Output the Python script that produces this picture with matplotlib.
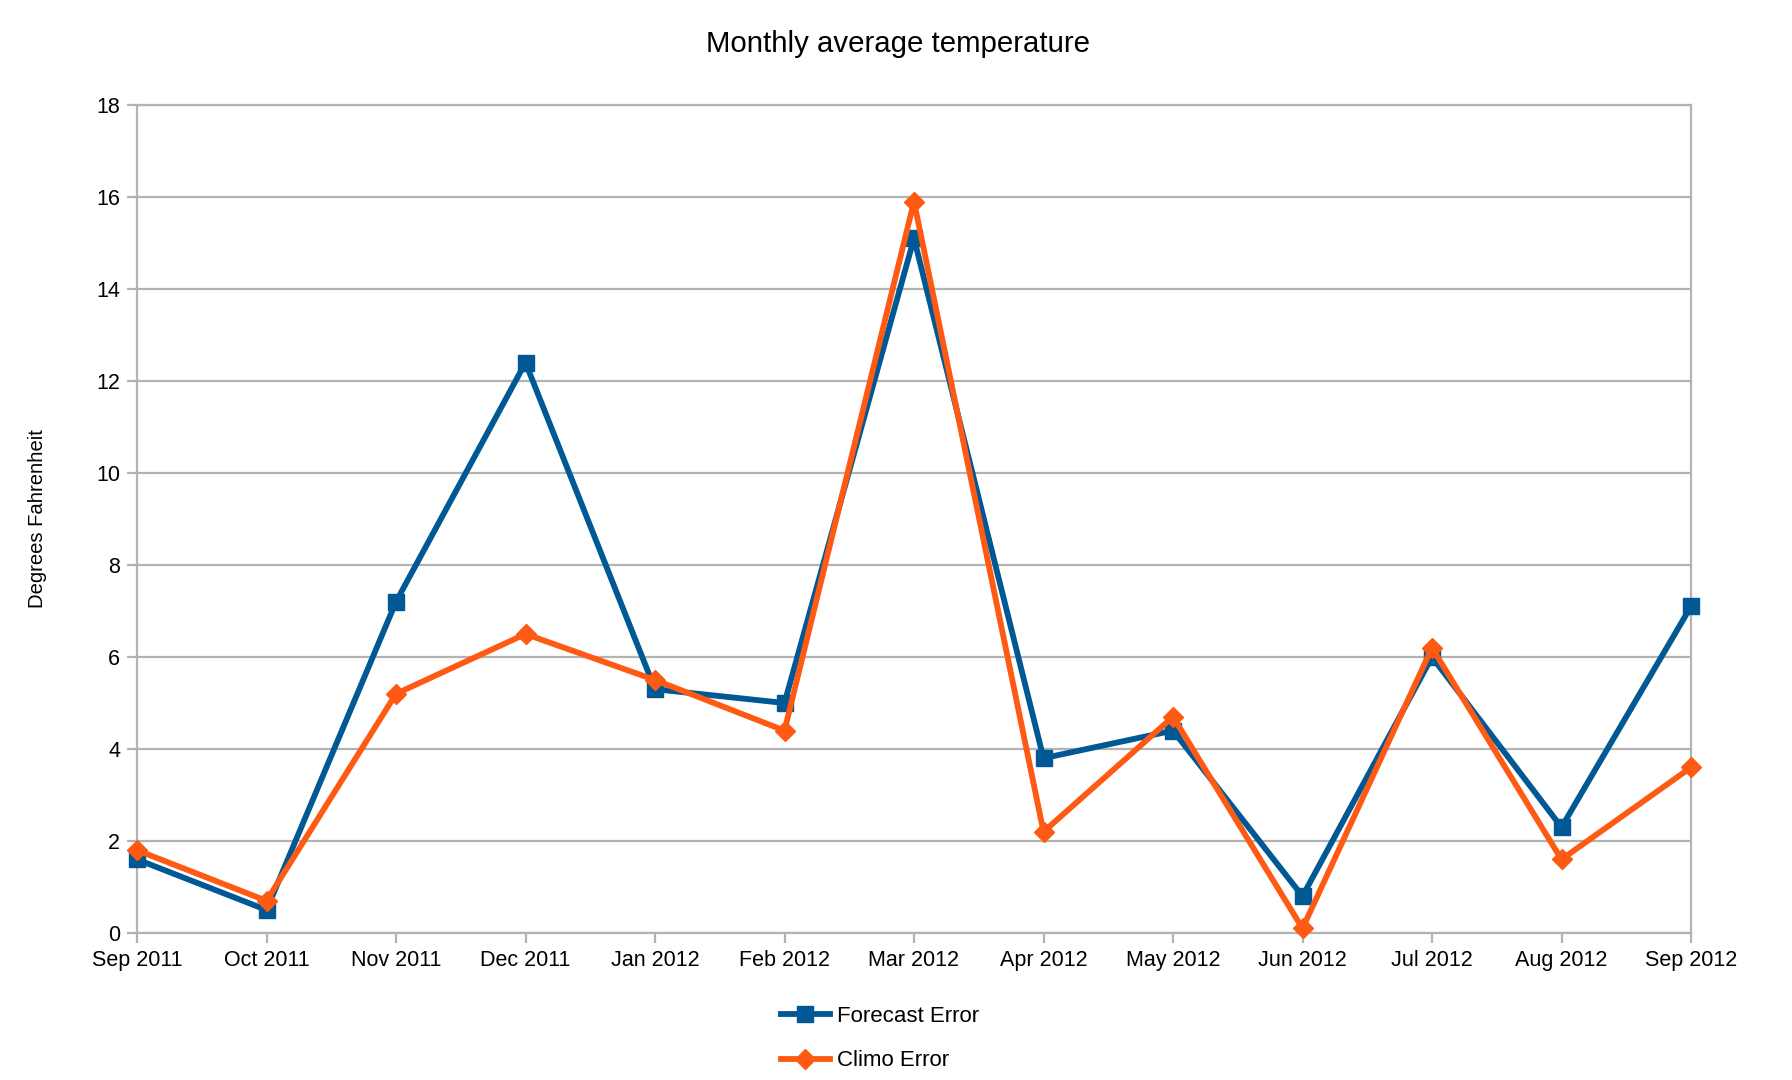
"""
Monthly average temperature: forecast vs climatology error.
"""
import matplotlib
matplotlib.use("Agg")
import matplotlib.pyplot as plt

months = ["Sep 2011", "Oct 2011", "Nov 2011", "Dec 2011", "Jan 2012", "Feb 2012",
          "Mar 2012", "Apr 2012", "May 2012", "Jun 2012", "Jul 2012", "Aug 2012",
          "Sep 2012"]
forecast_error = [1.6, 0.5, 7.2, 12.4, 5.3, 5.0, 15.1, 3.8, 4.4, 0.8, 6.0, 2.3, 7.1]
climo_error = [1.8, 0.7, 5.2, 6.5, 5.5, 4.4, 15.9, 2.2, 4.7, 0.1, 6.2, 1.6, 3.6]
y_ticks = [0, 2, 4, 6, 8, 10, 12, 14, 16, 18]

plt.rcParams['font.family'] = ['Liberation Sans', 'DejaVu Sans']

blue = '#005894'
orange = '#ff5a14'
grid = '#b3b3b3'

fig = plt.figure(figsize=(17.92, 10.8), dpi=100)
ax = fig.add_axes([137 / 1792, 1 - 933 / 1080, (1691 - 137) / 1792, (933 - 105) / 1080])

x = list(range(len(months)))
ax.plot(x, forecast_error, color=blue, lw=4.2, marker='s', markersize=12,
        label='Forecast Error', zorder=3, clip_on=False)
ax.plot(x, climo_error, color=orange, lw=4.2, marker='D', markersize=10,
        label='Climo Error', zorder=4, clip_on=False)

ax.set_xlim(0, len(months) - 1)
ax.set_ylim(0, 18)
ax.set_xticks(x)
ax.set_xticklabels(months)
ax.set_yticks(y_ticks)
ax.yaxis.grid(True, color=grid, lw=1.6)
ax.set_axisbelow(True)
for s in ax.spines.values():
    s.set_color(grid)
    s.set_linewidth(1.6)
ax.tick_params(axis='both', color=grid, width=1.6, length=7, labelsize=15.5,
               direction='out', pad=5)

ax.set_ylabel('Degrees Fahrenheit', fontsize=14.6)
ax.yaxis.set_label_coords(-(137 - 47) / (1691 - 137), 0.5)

fig.text(0.501, 1 - 44 / 1080, 'Monthly average temperature', fontsize=21.2,
         ha='center', va='center')

fig.legend(loc='upper left', bbox_to_anchor=(781 / 1792, 1 - 1006 / 1080),
           frameon=False, fontsize=16, handlelength=2.2, handletextpad=0.3,
           labelspacing=1.05, borderpad=0, borderaxespad=0)

fig.savefig('out.png', dpi=100)
